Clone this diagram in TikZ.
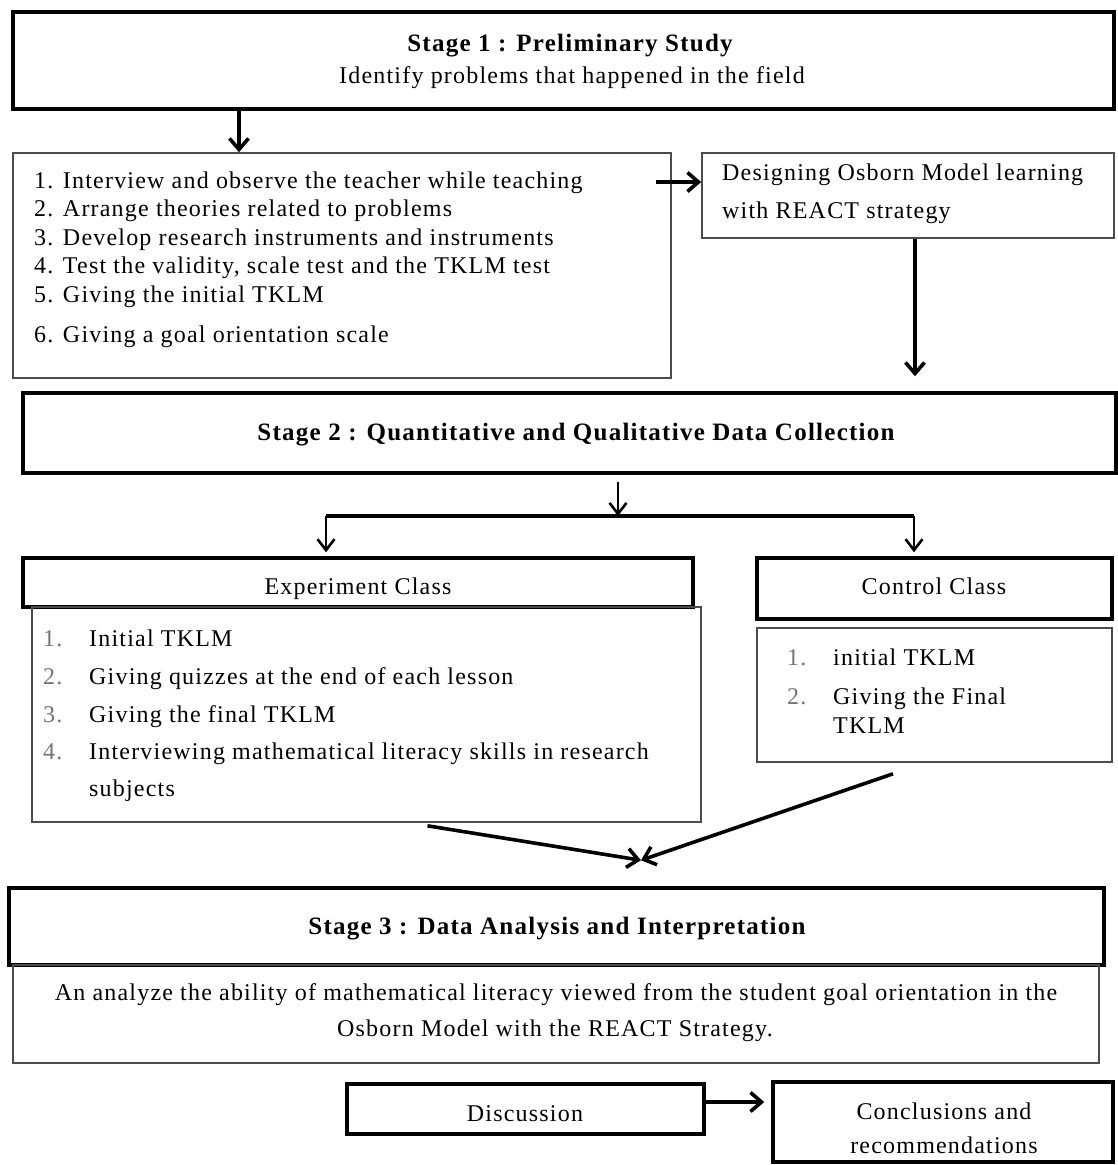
\documentclass[tikz,border=0pt]{standalone}
\usepackage{fontspec}
\setmainfont{Liberation Serif}[LetterSpace=5]
\usetikzlibrary{arrows.meta}
\newcommand{\mybox}[6]{\node[#2, minimum width={(#5-#3)*1pt}, minimum height={(#6-#4)*1pt}] (#1) at ({(#3+#5)/2},{(#4+#6)/2}) {};}
\begin{document}
\begin{tikzpicture}[x=1pt,y=-1pt,
  tbox/.style={draw, line width=3.5pt, inner sep=0pt, rectangle},
  nbox/.style={draw=black!70, line width=1.6pt, inner sep=0pt, rectangle},
  txt/.style={inner sep=0pt, font=\fontsize{24}{29}\selectfont},
  ttl/.style={inner sep=0pt, font=\fontsize{25}{30}\selectfont\bfseries},
  num/.style={txt, text=black!55},
  arr/.style={line width=3.6pt, -{Straight Barb[length=11pt,width=19pt]}},
  arrs/.style={line width=2.6pt, -{Straight Barb[length=11pt,width=17pt]}}]
\useasboundingbox (0,0) rectangle (1118,1165);

% Stage 1
\mybox{s1}{tbox}{13}{12}{1114}{109}
\node[ttl, anchor=base] (s1t) at (570,51) {Stage 1 : Preliminary Study};
\node[txt, anchor=base] (s1s) at (572,83) {Identify problems that happened in the field};

% list 1
\mybox{l1}{nbox}{13}{153}{671}{378}
\node[txt, anchor=base west] (l1a) at (34,188) {1. Interview and observe the teacher while teaching};
\node[txt, anchor=base west] (l1b) at (34,216) {2. Arrange theories related to problems};
\node[txt, anchor=base west] (l1c) at (34,245) {3. Develop research instruments and instruments};
\node[txt, anchor=base west] (l1d) at (34,273) {4. Test the validity, scale test and the TKLM test};
\node[txt, anchor=base west] (l1e) at (34,302) {5. Giving the initial TKLM};
\node[txt, anchor=base west] (l1f) at (34,342) {6. Giving a goal orientation scale};

% design
\mybox{d1}{nbox}{702}{153}{1114}{238}
\node[txt, anchor=base west] (d1a) at (722,180) {Designing Osborn Model learning};
\node[txt, anchor=base west] (d1b) at (722,218) {with REACT strategy};

% Stage 2
\mybox{s2}{tbox}{23}{393}{1116}{473}
\node[ttl, anchor=base] (s2t) at (576,440) {Stage 2 : Quantitative and Qualitative Data Collection};

% Experiment
\mybox{eh}{tbox}{23}{558}{693}{607}
\node[txt, anchor=base] (eht) at (358,594) {Experiment Class};
\mybox{el}{nbox}{32}{607}{701}{822}
\node[num, anchor=base west] (en1) at (43,646) {1.};
\node[txt, anchor=base west] (et1) at (89,646) {Initial TKLM};
\node[num, anchor=base west] (en2) at (43,684) {2.};
\node[txt, anchor=base west] (et2) at (89,684) {Giving quizzes at the end of each lesson};
\node[num, anchor=base west] (en3) at (43,722) {3.};
\node[txt, anchor=base west] (et3) at (89,722) {Giving the final TKLM};
\node[num, anchor=base west] (en4) at (43,759) {4.};
\node[txt, anchor=base west] (et4) at (89,759) {Interviewing mathematical literacy skills in research};
\node[txt, anchor=base west] (et5) at (89,796) {subjects};

% Control
\mybox{ch}{tbox}{757}{558}{1112}{619}
\node[txt, anchor=base] (cht) at (934,594) {Control Class};
\mybox{cl}{nbox}{757}{628}{1112}{762}
\node[num, anchor=base west] (cn1) at (787,665) {1.};
\node[txt, anchor=base west] (ct1) at (833,665) {initial TKLM};
\node[num, anchor=base west] (cn2) at (787,704) {2.};
\node[txt, anchor=base west] (ct2) at (833,704) {Giving the Final};
\node[txt, anchor=base west] (ct3) at (833,733) {TKLM};

% Stage 3
\mybox{s3}{tbox}{9}{888}{1104}{965}
\node[ttl, anchor=base] (s3t) at (557,934) {Stage 3 : Data Analysis and Interpretation};
\mybox{an}{nbox}{13}{965}{1099}{1063}
\node[txt, anchor=base] (ana) at (556,1000) {An analyze the ability of mathematical literacy viewed from the student goal orientation in the};
\node[txt, anchor=base] (anb) at (555,1036) {Osborn Model with the REACT Strategy.};

% Discussion / Conclusions
\mybox{di}{tbox}{347}{1084}{704}{1134}
\node[txt, anchor=base] (dit) at (525,1121) {Discussion};
\mybox{co}{tbox}{773}{1082}{1113}{1162}
\node[txt, anchor=base] (coa) at (944,1119) {Conclusions and};
\node[txt, anchor=base] (cob) at (944,1153) {recommendations};

% connectors
\coordinate (ax1) at (239,0);
\draw[arr] (s1.south -| ax1) -- (l1.north -| ax1);
\coordinate (a2) at (656,182);
\draw[arr] (a2) -- (a2 -| d1.west);
\coordinate (ax2) at (915,0);
\draw[arr, shorten >=15pt] (d1.south -| ax2) -- (s2.north -| ax2);
\coordinate (ax3) at (618,0);
\coordinate (bl) at (326,516);
\coordinate (br) at (914,516);
\draw[arrs, shorten <=7pt] (s2.south -| ax3) -- (ax3 |- bl);
\draw[line width=4pt] (bl) -- (br);
\draw[arrs, shorten >=4pt] (bl) -- (bl |- eh.north);
\draw[arrs, shorten >=4pt] (br) -- (br |- ch.north);
\coordinate (e1) at ([xshift=61pt,yshift=-3pt]el.south);
\coordinate (e2) at ([xshift=-41.5pt,yshift=-11pt]cl.south);
\coordinate (m) at ([xshift=84.5pt,yshift=26pt]s3.north);
\draw[arr] (e1) -- (m);
\draw[arr] (e2) -- (m);
\coordinate (dd) at ([yshift=7pt]di.east);
\draw[arr, shorten >=7pt] (dd) -- (dd -| co.west);
\end{tikzpicture}
\end{document}
